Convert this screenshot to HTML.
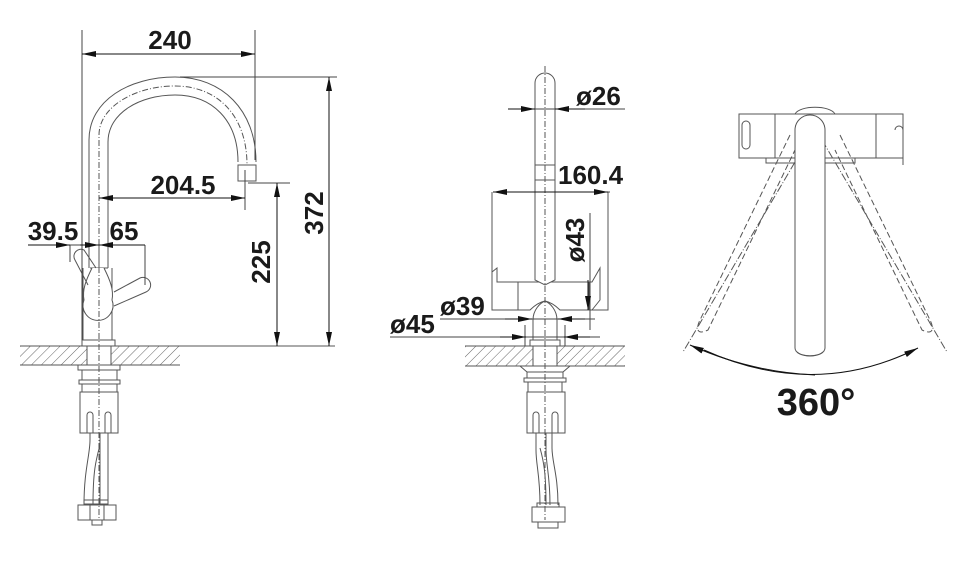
<!DOCTYPE html>
<html><head><meta charset="utf-8"><style>
html,body{margin:0;padding:0;background:#fff}
svg{display:block}
text{font-family:"Liberation Sans",Arial,sans-serif;font-weight:bold;fill:#1a1a1a}
</style></head><body>
<svg width="960" height="568" viewBox="0 0 960 568" xmlns="http://www.w3.org/2000/svg">
<defs>
<pattern id="h" width="7" height="7" patternUnits="userSpaceOnUse" patternTransform="rotate(45)">
<line x1="0" y1="0" x2="0" y2="7" stroke="#666" stroke-width="1"/>
</pattern>
<marker id="a" markerWidth="14" markerHeight="6" refX="14" refY="3" orient="auto" markerUnits="userSpaceOnUse">
<path d="M0,0 L14,3 L0,6 Z" fill="#111"/>
</marker>
</defs>
<g fill="none" stroke="#555" stroke-width="1">
<rect x="20" y="346" width="160" height="19" fill="url(#h)" stroke="none"/>
<line x1="20" y1="346" x2="335" y2="346"/>
<line x1="20" y1="365" x2="180" y2="365"/>
<rect x="87" y="346" width="24" height="19" fill="#fff"/>
<rect x="82" y="340" width="33" height="6"/>
<line x1="83" y1="340" x2="83" y2="268"/><line x1="112" y1="340" x2="112" y2="268"/>
<path d="M89,268 V140 C89,100 130,77 175,77 C222,77 256,110 256,162"/>
<path d="M108,268 V142 C108,113 140,95 175,95 C212,95 238,120 238,162"/>
<path d="M99,300 V135 C99,107 135,86 175,86 C217,86 247,115 247,165" stroke-dasharray="6,2,1,2"/>
<rect x="238" y="165" width="18" height="16"/>
<path d="M90,268 H108"/>
<path d="M92,268 C86,280 82,290 84,300 A15,15 0 1 0 112,300 C114,290 110,280 104,268" fill="#fff"/>
<path d="M88,285 L75,260 A7,7 0 0 1 84,250 L96,268"/>
<path d="M114,292 L140,278 A7,7 0 0 1 146,292 L114,306"/>
<line x1="99" y1="245" x2="99" y2="520" stroke-dasharray="6,2,1,2"/>
<rect x="78" y="365" width="42" height="5"/>
<rect x="82" y="370" width="35" height="10"/>
<rect x="79" y="380" width="41" height="4"/>
<rect x="82" y="384" width="35" height="8"/>
<path d="M80,392 H118 V433 H80 Z"/>
<path d="M80,410 V433 M87,433 V415 A3,3 0 0 1 93,415 V433 M105,433 V415 A3,3 0 0 1 111,415 V433"/>
<path d="M90,433 V440 C90,455 84,470 84,505 M100,433 V445 C96,460 93,470 93,505 M100,445 V505 M108,433 V505"/>
<rect x="84" y="500" width="24" height="4"/>
<path d="M78,505 H116 V520 H78 Z M90,505 V520 M104,505 V520"/>
<rect x="92" y="520" width="10" height="5"/>
<g stroke="#444">
<line x1="82" y1="30" x2="82" y2="340"/>
<line x1="255" y1="30" x2="255" y2="160"/>
<line x1="180" y1="77" x2="337" y2="77"/>
<line x1="248" y1="183" x2="290" y2="183"/>
<line x1="245" y1="170" x2="245" y2="210"/>
<line x1="100" y1="198" x2="115" y2="198"/>
<line x1="28" y1="245" x2="145" y2="245"/>
<line x1="145" y1="245" x2="145" y2="285"/>
<line x1="70" y1="245" x2="70" y2="262"/>
</g>
<g stroke="#111">
<line x1="170" y1="54" x2="82" y2="54" marker-end="url(#a)"/>
<line x1="170" y1="54" x2="255" y2="54" marker-end="url(#a)"/>
<line x1="329" y1="210" x2="329" y2="77" marker-end="url(#a)"/>
<line x1="329" y1="210" x2="329" y2="346" marker-end="url(#a)"/>
<line x1="277" y1="260" x2="277" y2="183" marker-end="url(#a)"/>
<line x1="277" y1="260" x2="277" y2="346" marker-end="url(#a)"/>
<line x1="170" y1="198" x2="99" y2="198" marker-end="url(#a)"/>
<line x1="170" y1="198" x2="245" y2="198" marker-end="url(#a)"/>
<line x1="28" y1="245" x2="70" y2="245" marker-end="url(#a)"/>
<line x1="145" y1="245" x2="99" y2="245" marker-end="url(#a)"/>
<line x1="80" y1="245" x2="99" y2="245" marker-end="url(#a)"/>
</g>

<rect x="465" y="346" width="160" height="20" fill="url(#h)" stroke="none"/>
<line x1="465" y1="346" x2="625" y2="346"/><line x1="465" y1="366" x2="625" y2="366"/>
<rect x="533" y="346" width="24" height="20" fill="#fff"/>
<rect x="530" y="340" width="30" height="6"/>
<path d="M533,340 V320 C533,310 540,303 545,301 C550,303 557,310 557,320 V340"/>
<path d="M492,192 V310 H530 C535,305 540,302 545,301 C550,302 555,305 560,310 H608 V192"/>
<path d="M492,272 L497,268 V282 H592 L600,268 V300 L592,310"/>
<line x1="518" y1="282" x2="518" y2="310"/>
<line x1="589" y1="282" x2="589" y2="310"/>
<path d="M535,280 V83 A10,10 0 0 1 555,83 V280 L545,285 Z" fill="#fff"/>
<rect x="535" y="165" width="20" height="15" fill="#fff"/>
<line x1="545" y1="66" x2="545" y2="520" stroke-dasharray="6,2,1,2"/>
<path d="M520,366 H570 L563,372 H527 Z"/>
<rect x="527" y="372" width="36" height="6"/>
<rect x="524" y="378" width="42" height="4"/>
<rect x="528" y="382" width="34" height="10"/>
<path d="M527,392 H565 V433 H527 Z"/>
<path d="M527,410 V433 M533,433 V415 A3,3 0 0 1 539,415 V433 M552,433 V415 A3,3 0 0 1 558,415 V433"/>
<path d="M536,433 V450 C536,465 540,475 540,505 M546,433 V450 C546,465 550,475 550,505 M552,433 V448 C552,462 558,475 558,505 M540,448 C544,462 546,475 546,505"/>
<rect x="537" y="503" width="22" height="4"/>
<path d="M532,507 H565 V522 H532 Z"/>
<rect x="538" y="522" width="20" height="6"/>
<g stroke="#444">
<line x1="508" y1="109" x2="625" y2="109"/>
<line x1="493" y1="192" x2="610" y2="192"/>
<line x1="590" y1="213" x2="590" y2="330"/>
<line x1="440" y1="319" x2="595" y2="319"/>
<line x1="390" y1="337" x2="600" y2="337"/>
<line x1="525" y1="325" x2="525" y2="346"/><line x1="565" y1="325" x2="565" y2="346"/>
</g>
<g stroke="#111">
<line x1="508" y1="109" x2="535" y2="109" marker-end="url(#a)"/>
<line x1="585" y1="109" x2="555" y2="109" marker-end="url(#a)"/>
<line x1="545" y1="192" x2="493" y2="192" marker-end="url(#a)"/>
<line x1="545" y1="192" x2="608" y2="192" marker-end="url(#a)"/>
<line x1="505" y1="319" x2="532" y2="319" marker-end="url(#a)"/>
<line x1="585" y1="319" x2="558" y2="319" marker-end="url(#a)"/>
<line x1="500" y1="337" x2="526" y2="337" marker-end="url(#a)"/>
<line x1="590" y1="337" x2="564" y2="337" marker-end="url(#a)"/>
<line x1="588" y1="280" x2="588" y2="310" marker-end="url(#a)"/>
</g>

<path d="M795,114 C800,105 830,105 835,114"/>
<rect x="739" y="114" width="164" height="44" fill="#fff"/>
<line x1="775" y1="114" x2="775" y2="158"/><line x1="876" y1="114" x2="876" y2="158"/>
<path d="M742,125 A4,4 0 0 1 750,125 V145 A4,4 0 0 1 742,145 Z"/>
<path d="M895,130 A4,4 0 0 1 903,130 V165"/>
<path d="M766,158 V163 H855 V158"/>
<g stroke-dasharray="6,3">
<path d="M790,135 L700,320 C695,330 698,335 708,330 L795,150"/>
<path d="M840,135 L930,320 C935,330 932,335 922,330 L835,150"/>
</g>
<g stroke-dasharray="8,2,1,2">
<line x1="808" y1="140" x2="683" y2="352"/>
<line x1="822" y1="140" x2="947" y2="352"/>
</g>
<path d="M795,348 V130 A15,15 0 0 1 825,130 V348 A15,8 0 0 1 795,348 Z" fill="#fff"/>
<path d="M797,352 A14,6 0 0 0 823,352"/>
<path d="M704,350 Q815,400 918,348" stroke="#111" marker-end="url(#a)"/>
<path d="M815,375 Q750,372 690,345" stroke="#111" marker-end="url(#a)"/>
</g>

<g font-size="26">
<text x="170" y="49" text-anchor="middle">240</text>
<text x="183" y="194" text-anchor="middle">204.5</text>
<text x="53" y="240" text-anchor="middle">39.5</text>
<text x="124" y="240" text-anchor="middle">65</text>
<text transform="translate(323,213) rotate(-90)" text-anchor="middle">372</text>
<text transform="translate(270,262) rotate(-90)" text-anchor="middle">225</text>
<text x="576" y="105">ø26</text>
<text x="558" y="184">160.4</text>
<text transform="translate(584,240) rotate(-90)" text-anchor="middle">ø43</text>
<text x="440" y="315">ø39</text>
<text x="390" y="333">ø45</text>
<text x="816" y="415" text-anchor="middle" font-size="38">360°</text>
</g>
</svg>
</body></html>
